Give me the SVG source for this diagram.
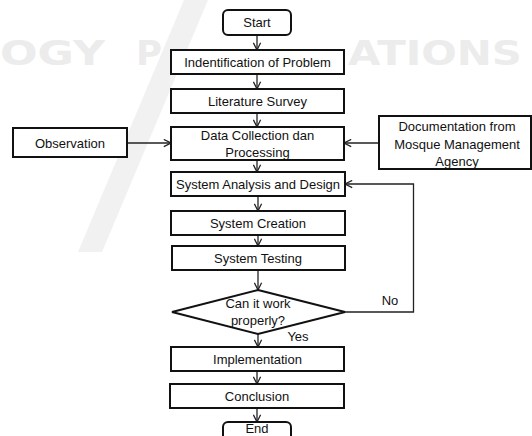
<svg xmlns="http://www.w3.org/2000/svg" width="532" height="436" viewBox="0 0 532 436">
<defs>
<marker id="arr" viewBox="0 0 10 10" refX="9" refY="5" markerWidth="9" markerHeight="9" markerUnits="userSpaceOnUse" orient="auto">
<path d="M1,1 L9,5 L1,9" fill="none" stroke="#222" stroke-width="1.4"/>
</marker>
<style>
.box{fill:#fff;stroke:#111;stroke-width:2}
.t{font-family:"Liberation Sans",Arial,sans-serif;font-size:13px;fill:#111;text-anchor:middle}
.c{fill:none;stroke:#222;stroke-width:1.3}
.wm{font-family:"DejaVu Sans",sans-serif;font-weight:bold;font-size:33px;fill:#ececec}
</style>
</defs>
<rect width="532" height="436" fill="#fff"/>
<g id="watermark">
<polygon points="184,0 208,0 102,252 78,252" fill="#f1f1f1"/>
<text class="wm" x="0" y="65" textLength="105" lengthAdjust="spacingAndGlyphs">OGY</text>
<text class="wm" x="136" y="65" textLength="26" lengthAdjust="spacingAndGlyphs">P</text>
<text class="wm" x="348" y="65" textLength="174" lengthAdjust="spacingAndGlyphs">ATIONS</text>
</g>
<g id="connectors">
<line class="c" x1="257" y1="35" x2="257" y2="50" marker-end="url(#arr)"/>
<line class="c" x1="257" y1="74" x2="257" y2="89" marker-end="url(#arr)"/>
<line class="c" x1="257" y1="113" x2="257" y2="127" marker-end="url(#arr)"/>
<line class="c" x1="257" y1="160" x2="257" y2="172" marker-end="url(#arr)"/>
<line class="c" x1="258" y1="196" x2="258" y2="211" marker-end="url(#arr)"/>
<line class="c" x1="258" y1="235" x2="258" y2="246" marker-end="url(#arr)"/>
<line class="c" x1="258" y1="270" x2="258" y2="290" marker-end="url(#arr)"/>
<line class="c" x1="258" y1="334" x2="258" y2="347" marker-end="url(#arr)"/>
<line class="c" x1="257" y1="371" x2="257" y2="384" marker-end="url(#arr)"/>
<line class="c" x1="257" y1="408" x2="257" y2="422" marker-end="url(#arr)"/>
<line class="c" x1="127" y1="143" x2="171" y2="143" marker-end="url(#arr)"/>
<line class="c" x1="379" y1="143" x2="344" y2="143" marker-end="url(#arr)"/>
<polyline class="c" points="345,312 413.5,312 413.5,184 345,184" marker-end="url(#arr)"/>
<text class="t" x="390" y="305">No</text>
<text class="t" x="298" y="340.5">Yes</text>
</g>
<g id="start"><rect class="box" x="223" y="10" width="68" height="25" rx="5"/><text class="t" x="257" y="27">Start</text></g>
<g id="ident"><rect class="box" x="171" y="50" width="173" height="24"/><text class="t" x="257.5" y="66.5">Indentification of Problem</text></g>
<g id="literature"><rect class="box" x="171" y="89" width="173" height="24"/><text class="t" x="257.5" y="105.5">Literature Survey</text></g>
<g id="datacollection"><rect class="box" x="171" y="127" width="173" height="33"/><text class="t" x="257.5" y="139.5">Data Collection dan</text><text class="t" x="257.5" y="157">Processing</text></g>
<g id="observation"><rect class="box" x="13" y="128" width="114" height="29"/><text class="t" x="70" y="147.5">Observation</text></g>
<g id="documentation"><rect class="box" x="379" y="116" width="152" height="53"/><text class="t" x="457" y="131">Documentation from</text><text class="t" x="457" y="148.5">Mosque Management</text><text class="t" x="457" y="166">Agency</text></g>
<g id="analysis"><rect class="box" x="171" y="172" width="174" height="24"/><text class="t" x="258" y="188.5">System Analysis and Design</text></g>
<g id="creation"><rect class="box" x="171" y="211" width="174" height="24"/><text class="t" x="258" y="227.5">System Creation</text></g>
<g id="testing"><rect class="box" x="172" y="246" width="173" height="24"/><text class="t" x="258" y="262.5">System Testing</text></g>
<g id="decision"><polygon class="box" points="258,290 345,312 258,334 172,312"/><text class="t" x="258" y="307.5">Can it work</text><text class="t" x="258" y="325">properly?</text></g>
<g id="implementation"><rect class="box" x="171" y="347" width="173" height="24"/><text class="t" x="257.5" y="363.5">Implementation</text></g>
<g id="conclusion"><rect class="box" x="170" y="384" width="174" height="24"/><text class="t" x="257" y="400.5">Conclusion</text></g>
<g id="end"><rect class="box" x="223" y="422" width="68" height="26" rx="5"/><text class="t" x="257" y="432.5">End</text></g>
</svg>
